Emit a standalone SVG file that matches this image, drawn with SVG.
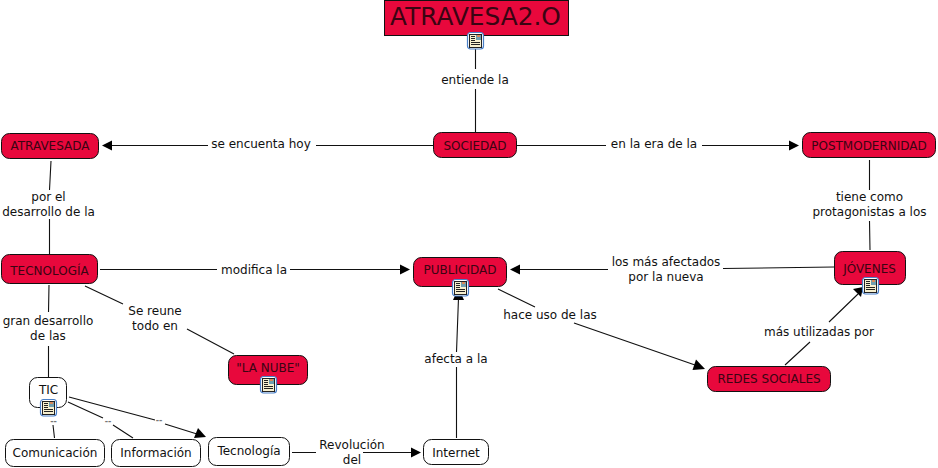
<svg xmlns="http://www.w3.org/2000/svg" width="938" height="468" viewBox="0 0 938 468">
<style>
text{font-family:"DejaVu Sans",Verdana,sans-serif;font-size:12px;fill:#111;text-anchor:middle}
.red{fill:#e8083c;stroke:#111;stroke-width:1}
.wh{fill:#fff;stroke:#111;stroke-width:1}
.nt{fill:#3a0412}
.c{fill:none;stroke:#111;stroke-width:1.1}
.ah{fill:#000;stroke:none}
.tiny{font-size:8px;font-weight:bold;fill:#777}
</style>
<defs>
<g id="ic">
<rect x="0.500" y="0.500" width="16" height="16.500" rx="3" fill="#fff" stroke="#4a80c8" stroke-width="1.200"/>
<rect x="2.500" y="2.500" width="12" height="13" fill="#f7f0cf" stroke="#222" stroke-width="1"/>
<rect x="9" y="3" width="5" height="5" fill="#6f9fb0"/>
<rect x="10" y="3" width="3" height="2" fill="#d9895a"/>
<path d="M4 4.500h4M4 6.500h4M4 8.500h4M4 10.500h9M4 12.500h9" stroke="#222" stroke-width="1" fill="none"/>
</g>
</defs>
<g id="connectors">
<path class="c" d="M475.500 48V69M475.500 89V132"/>
<path class="c" d="M433 145.500H316M208 145.500H112"/>
<path class="ah" d="M102 145.500L112 140.500V150.500Z"/>
<path class="c" d="M517 145.500H606M702 145.500H790"/>
<path class="ah" d="M799 145.500L789 140.500V150.500Z"/>
<path class="c" d="M51 161L49.500 190M49.500 219V254"/>
<path class="c" d="M869.500 160V190M869.500 221L870 250"/>
<path class="c" d="M100 269.500H217M290 269.500H401"/>
<path class="ah" d="M410 269.500L400 264.500V274.500Z"/>
<path class="c" d="M834 267L723 268.500M608 269.500H519"/>
<path class="ah" d="M510 269.500L520 264.500V274.500Z"/>
<path class="c" d="M49 285L48.500 312M48.500 346V377"/>
<path class="c" d="M85 286L123 304M187 329L234 354"/>
<path class="c" d="M456.500 438V367M456.500 352L458.500 298"/>
<path class="ah" d="M458.500 288L453 300H464Z"/>
<path class="c" d="M498 289L535 307M574 323L695 365"/>
<path class="ah" d="M705 369L692.500 370L696 359.500Z"/>
<path class="c" d="M785 365L810 342M829 322L858 294"/>
<path class="ah" d="M863 287L861 297L853 289Z"/>
<path class="c" d="M292 452.500H316M363 452.500H411"/>
<path class="ah" d="M421 452.500L411 447.500V457.500Z"/>
<path class="c" d="M53 425L54.500 438M68 402L103 418M113 425L133 438M69 397L155 420M165 424L197 434"/>
<path class="ah" d="M206 437L194 438L198 428Z"/>
</g>
<g id="n1"><rect class="red" x="384.500" y="0.500" width="184" height="35"/><text class="nt" x="475.500" y="25" style="font-size:24.800px">ATRAVESA2.O</text><use href="#ic" x="467" y="32"/></g>
<g id="n2"><rect class="red" x="433.500" y="132.500" width="83" height="25" rx="8"/><text class="nt" x="475" y="149.500">SOCIEDAD</text></g>
<g id="n3"><rect class="red" x="1.500" y="133.500" width="97" height="25" rx="8"/><text class="nt" x="50" y="150">ATRAVESADA</text></g>
<g id="n4"><rect class="red" x="802.500" y="132.500" width="133" height="25" rx="8"/><text class="nt" x="869" y="149.500">POSTMODERNIDAD</text></g>
<g id="n5"><rect class="red" x="1.500" y="254.500" width="96" height="29" rx="8"/><text class="nt" x="49.500" y="275">TECNOLOGÍA</text></g>
<g id="n6"><rect class="red" x="413.500" y="257.500" width="93" height="29" rx="8"/><text class="nt" x="460" y="274">PUBLICIDAD</text><use href="#ic" x="452" y="279"/></g>
<g id="n7"><rect class="red" x="834.500" y="251.500" width="71" height="33" rx="8"/><text class="nt" x="869.500" y="272.500">JÓVENES</text><use href="#ic" x="862" y="277"/></g>
<g id="n8"><rect class="red" x="707.500" y="366.500" width="123" height="25" rx="8"/><text class="nt" x="769" y="383">REDES SOCIALES</text></g>
<g id="n9"><rect class="red" x="228.500" y="355.500" width="79" height="29" rx="8"/><text class="nt" x="268" y="371.500">"LA NUBE"</text><use href="#ic" x="260" y="376"/></g>
<g id="n10"><rect class="wh" x="29.500" y="377.500" width="37" height="30" rx="8"/><text x="48.500" y="393.500">TIC</text><use href="#ic" x="40" y="399"/></g>
<g id="n11"><rect class="wh" x="5.500" y="439.500" width="99" height="27" rx="8"/><text x="55" y="457">Comunicación</text></g>
<g id="n12"><rect class="wh" x="111.500" y="439.500" width="89" height="27" rx="8"/><text x="156" y="457">Información</text></g>
<g id="n13"><rect class="wh" x="208.500" y="437.500" width="81" height="28" rx="8"/><text x="249" y="455">Tecnología</text></g>
<g id="n14"><rect class="wh" x="423.500" y="439.500" width="65" height="25" rx="8"/><text x="456" y="456.500">Internet</text></g>
<g id="labels">
<text x="475" y="84">entiende la</text>
<text x="261" y="148">se encuenta hoy</text>
<text x="654" y="148">en la era de la</text>
<text x="48.500" y="201">por el</text><text x="48.500" y="216">desarrollo de la</text>
<text x="869.500" y="201">tiene como</text><text x="869.500" y="216">protagonistas a los</text>
<text x="254" y="273.500">modifica la</text>
<text x="666" y="266">los más afectados</text><text x="666" y="280.500">por la nueva</text>
<text x="550" y="319">hace uso de las</text>
<text x="819" y="335.500">más utilizadas por</text>
<text x="456" y="363">afecta a la</text>
<text x="155" y="315">Se reune</text><text x="155" y="330">todo en</text>
<text x="48" y="325">gran desarrollo</text><text x="48" y="340">de las</text>
<text x="352" y="449">Revolución</text><text x="352" y="464">del</text>
<text class="tiny" x="53.500" y="423.500">--</text><text class="tiny" x="108" y="423.500">--</text><text class="tiny" x="159" y="423">--</text>
</g>
</svg>
